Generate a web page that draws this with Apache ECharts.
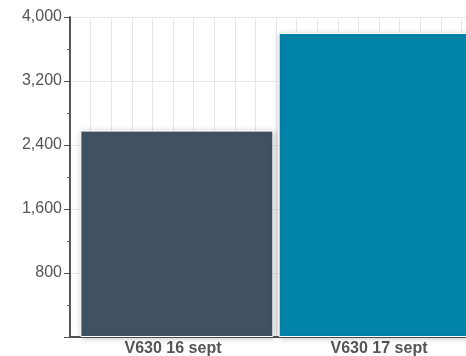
<!DOCTYPE html>
<html>
<head>
<meta charset="utf-8">
<script src="https://cdn.jsdelivr.net/npm/echarts@6/dist/echarts.min.js"></script>
<style>
  html, body { margin: 0; padding: 0; background: #ffffff; }
  #chart { width: 466px; height: 356px; }
</style>
</head>
<body>
<div id="chart"></div>
<script>
// Daily totals for the V630 line
const categories = ['V630 16 sept', 'V630 17 sept'];
const values = [2580, 3800];
const barColors = ['#415262', '#0084aa'];

// y-axis scale
const yMin = 0;
const yMax = 4000;
const yInterval = 800;

const chart = echarts.init(document.getElementById('chart'), null, { renderer: 'canvas' });

// one series per day so each column keeps its own colour and slot
const series = categories.map((name, i) => ({
  name: name,
  type: 'bar',
  xAxisIndex: 0,
  yAxisIndex: 0,
  barWidth: 193,
  barGap: '-104%',
  data: categories.map((_, j) => (j === i ? values[i] : null)),
  itemStyle: {
    color: barColors[i],
    borderColor: '#ffffff',
    borderWidth: 1,
    shadowColor: 'rgba(0,0,0,0.22)',
    shadowBlur: 6,
    shadowOffsetX: 1,
    shadowOffsetY: 1
  }
}));

chart.setOption({
  animation: false,
  backgroundColor: '#ffffff',
  // the plot runs on past the right edge of the canvas
  grid: {
    left: 70, width: 412, top: 17, bottom: 19,
    containLabel: false,
    outerBoundsMode: 'none'
  },
  xAxis: [
    {
      type: 'category',
      data: categories,
      position: 'bottom',
      axisLine: { show: true, lineStyle: { color: '#555555', width: 2 } },
      axisTick: { show: false },
      axisLabel: {
        color: '#555555',
        fontFamily: 'Liberation Sans, Arial, sans-serif',
        fontSize: 16,
        fontWeight: 'bold',
        margin: 4
      },
      splitLine: { show: false }
    },
    {
      // fine vertical grid behind the columns
      type: 'value',
      position: 'top',
      min: 0,
      max: 20,
      interval: 1,
      axisLine: { show: false },
      axisTick: { show: false },
      axisLabel: { show: false },
      splitLine: { show: true, lineStyle: { color: '#e6e6e6', width: 1 } }
    }
  ],
  yAxis: {
    type: 'value',
    min: yMin,
    max: yMax,
    interval: yInterval,
    axisLine: { show: true, lineStyle: { color: '#555555', width: 2 } },
    axisTick: { show: true, length: 6, lineStyle: { color: '#555555', width: 1 } },
    minorTick: { show: true, splitNumber: 2, length: 3, lineStyle: { color: '#555555', width: 1 } },
    axisLabel: {
      color: '#555555',
      fontFamily: 'Liberation Sans, Arial, sans-serif',
      fontSize: 16,
      margin: 8,
      showMinLabel: false,
      formatter: v => v.toLocaleString('en-US')
    },
    splitLine: { show: true, lineStyle: { color: '#e6e6e6', width: 1 } }
  },
  series: series
});
</script>
</body>
</html>
